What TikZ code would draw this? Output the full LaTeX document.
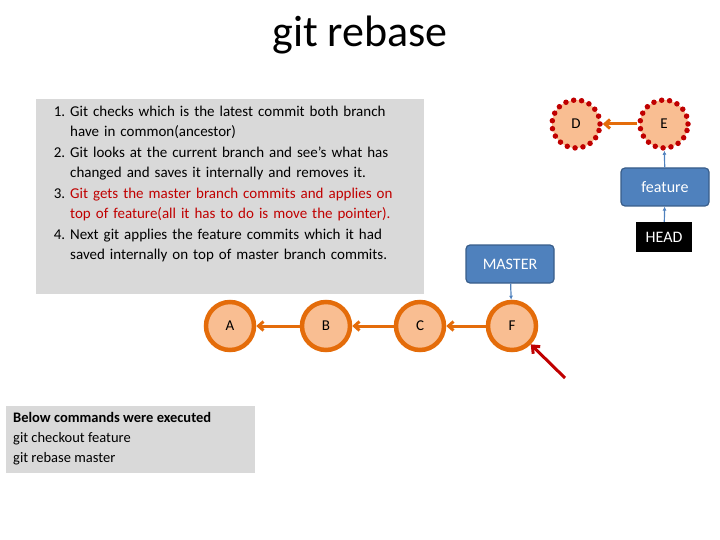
\documentclass[tikz,border=0pt]{standalone}
\usepackage{fontspec}
\setmainfont{Carlito}
\usetikzlibrary{positioning, arrows.meta}
\definecolor{commitfill}{RGB}{249,190,146}
\definecolor{commitline}{RGB}{228,108,10}
\definecolor{boxblue}{RGB}{79,129,189}
\definecolor{boxline}{RGB}{56,93,138}
\definecolor{darkred}{RGB}{192,0,0}
\definecolor{panel}{RGB}{217,217,217}
\setlength{\leftmargini}{28pt}
\begin{document}
\begin{tikzpicture}[x=1pt, y=-1pt,
        commit/.style={circle, draw=commitline, fill=commitfill, line width=4.5pt, minimum size=48pt, inner sep=0pt, font=\fontsize{15}{17}\selectfont},
        newcommit/.style={commit, draw=darkred, line width=5.5pt, dash pattern=on 0pt off 8pt, line cap=round},
        branch/.style={rectangle, rounded corners=4pt, draw=boxline, fill=boxblue, line width=1.2pt, text=white, minimum width=88pt, minimum height=38pt, font=\fontsize{16}{18}\selectfont},
        parent/.style={-{Straight Barb[length=5pt, width=9pt]}, draw=commitline, line width=3pt},
        pointer/.style={-{Latex[length=4pt, width=4pt]}, draw=boxblue, line width=1.2pt}
        ]
        \useasboundingbox (0,0) rectangle (720,540);

        \node (title) at (360,35) {\fontsize{44}{48}\selectfont git rebase};

        \fill[panel] (36,99) rectangle (424,294);
        \node[anchor=north west, text width=372pt, inner sep=0pt, align=left, font=\fontsize{15}{19.5}\selectfont] (steps) at (42,89) {%
        \begin{enumerate}\setlength{\itemsep}{2pt}\setlength{\parskip}{0pt}\setlength{\topsep}{0pt}
        \item Git checks which is the latest commit both branch have in common(ancestor)
        \item Git looks at the current branch and see's what has changed and saves it internally and removes it.
        \item \textcolor{darkred}{Git gets the master branch commits and applies on top of feature(all it has to do is move the pointer).}
        \item Next git applies the feature commits which it had saved internally on top of master branch commits.
        \end{enumerate}};

        \fill[panel] (6,406) rectangle (255,473);
        \node[anchor=north west, align=left, inner sep=0pt, font=\fontsize{14.5}{20}\selectfont] (cmds) at (13,412) {\textbf{Below commands were executed}\\git checkout feature\\git rebase master};

        \node[commit] (A) at (230,326) {A};
        \node[commit] (B) at (326,326) {B};
        \node[commit] (C) at (420,326) {C};
        \node[commit] (F) at (512,326) {F};
        \node[newcommit] (D) at (576,124) {D};
        \node[newcommit] (E) at (664,124) {E};

        \node[branch] (master) at (510,264) {MASTER};
        \node[branch] (feature) at (665,187) {feature};
        \node[fill=black, text=white, minimum width=56pt, minimum height=30pt, font=\fontsize{16}{18}\selectfont] (head) at (664,237) {HEAD};
        \coordinate (tail) at (565,378);

        \draw[parent] (B) -- (A);
        \draw[parent] (C) -- (B);
        \draw[parent] (F) -- (C);
        \draw[parent] (E) -- (D);
        \draw[pointer] (master) -- (F);
        \draw[pointer] (feature) -- (E);
        \draw[pointer] (head) -- (feature);
        \draw[-{Straight Barb[length=6pt, width=10pt]}, draw=darkred, line width=3pt] (tail) -- (F);
\end{tikzpicture}
\end{document}
